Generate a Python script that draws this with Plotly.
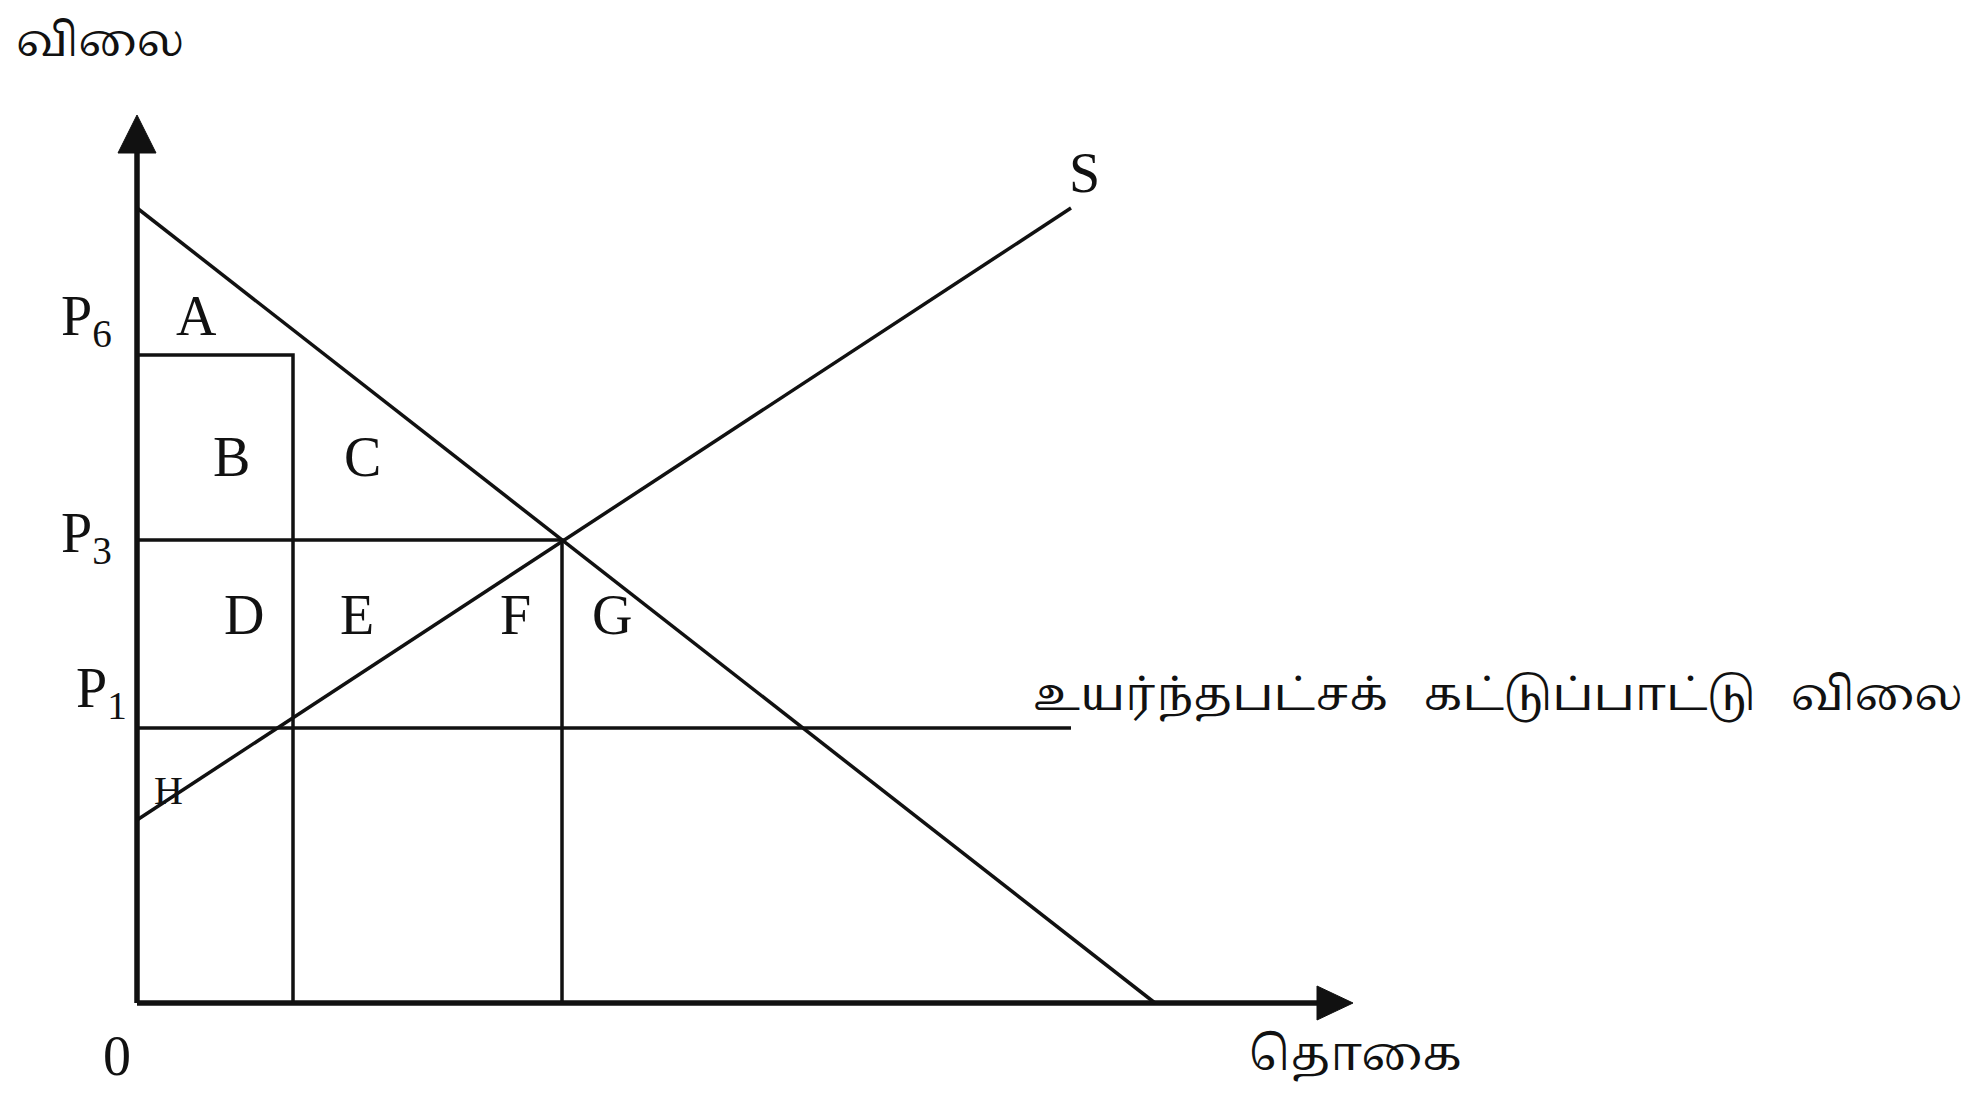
import plotly.graph_objects as go

# demand / supply schematic (arbitrary units, origin at 0,0)
demand_p0 = 79.5      # demand price intercept
demand_q0 = 101.8     # demand quantity intercept
supply_p0 = 18.3      # supply price intercept
supply_end = [93.4, 79.5]   # where the S line stops
prices = {"P6": 64.8, "P3": 46.3, "P1": 27.5}
q1 = 15.6
q3 = 42.5
ceiling_end = 93.4
y_axis_top = 88.8
x_axis_end = 121.6

area_labels = ["A", "B", "C", "D", "E", "F", "G"]
area_x = [5.9, 9.4, 22.5, 10.7, 22.0, 37.8, 47.5]
area_y = [68.7, 54.6, 54.6, 38.8, 38.8, 38.8, 38.8]

serif = "Liberation Serif, Times New Roman, serif"
tamil = "Noto Serif Tamil, Noto Sans Tamil, Lohit Tamil, Latha, sans-serif"
black = "#111111"

fig = go.Figure()

def seg(xs, ys, w=3.5):
    fig.add_trace(go.Scatter(x=xs, y=ys, mode="lines",
                             line=dict(color=black, width=w), hoverinfo="skip"))

# axes
seg([0, 0], [0, y_axis_top - 3], w=5.5)
seg([0, x_axis_end - 3], [0, 0], w=5.5)
fig.add_trace(go.Scatter(x=[0, -1.9, 1.9, 0], y=[y_axis_top, 85.0, 85.0, y_axis_top],
                         mode="lines", fill="toself", fillcolor=black,
                         line=dict(color=black, width=1), hoverinfo="skip"))
fig.add_trace(go.Scatter(x=[x_axis_end, 118.0, 118.0, x_axis_end], y=[0, 1.7, -1.7, 0],
                         mode="lines", fill="toself", fillcolor=black,
                         line=dict(color=black, width=1), hoverinfo="skip"))

# demand and supply
seg([0, demand_q0], [demand_p0, 0])
seg([0, supply_end[0]], [supply_p0, supply_end[1]])

# price lines and quantity verticals
seg([0, q1, q1], [prices["P6"], prices["P6"], 0])
seg([0, q3, q3], [prices["P3"], prices["P3"], 0])
seg([0, ceiling_end], [prices["P1"], prices["P1"]])

# text
for lab, x, y in zip(area_labels, area_x, area_y):
    fig.add_annotation(x=x, y=y, text=lab, showarrow=False,
                       font=dict(family=serif, size=56, color=black))

price_lab_x = {"P6": -5.1, "P3": -5.1, "P1": -3.6}
price_lab_dy = {"P6": 3.5, "P3": 0.3, "P1": 3.6}
for k, v in prices.items():
    fig.add_annotation(x=price_lab_x[k], y=v + price_lab_dy[k],
                       text="P<sub>" + k[1] + "</sub>", showarrow=False,
                       font=dict(family=serif, size=56, color=black))

fig.add_annotation(x=3.1, y=21.3, text="H", showarrow=False,
                   font=dict(family=serif, size=40, color=black))
fig.add_annotation(x=-2.0, y=-5.3, text="0", showarrow=False,
                   font=dict(family=serif, size=56, color=black))
fig.add_annotation(x=94.7, y=83.0, text="S", showarrow=False,
                   font=dict(family=serif, size=56, color=black))
fig.add_annotation(x=-3.7, y=96.0, text="விலை", showarrow=False,
                   font=dict(family=tamil, size=45, color=black))
fig.add_annotation(x=121.8, y=-5.3, text="தொகை", showarrow=False,
                   font=dict(family=tamil, size=47, color=black))
fig.add_annotation(x=136.1, y=30.6,
                   text="உயர்ந்தபட்சக் \u2002கட்டுப்பாட்டு \u2002விலை",
                   showarrow=False, font=dict(family=tamil, size=46, color=black))

# shifted by 0.8 units to offset the page's body margin
fig.update_xaxes(range=[-12.9, 185.1], visible=False)
fig.update_yaxes(range=[-9.9, 99.5], visible=False)
fig.update_layout(width=1980, height=1094, showlegend=False,
                  plot_bgcolor="white", paper_bgcolor="white",
                  margin={'t': 0, 'l': 0, 'b': 0, 'r': 0})

fig.write_html("out.html")
